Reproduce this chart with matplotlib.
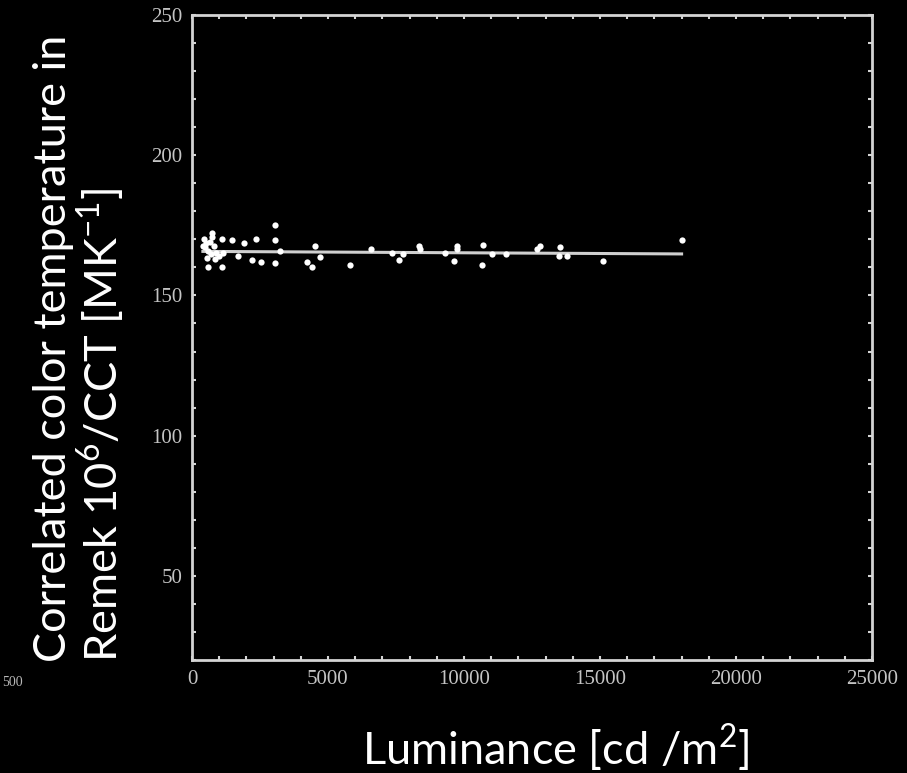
import matplotlib.pyplot as plt
from matplotlib import rc
from matplotlib.ticker import MultipleLocator

rc('mathtext', default='regular')

# data
lum = [450, 520, 480, 600, 700, 560, 800, 900, 1000, 1150, 850, 650, 400, 750,
       599, 724, 1092, 1092, 1482, 1702, 1923, 2195, 2353, 2537, 3051, 3051,
       3051, 3235, 4217, 4401, 4522, 4706, 5809, 6581, 7342, 7610, 7768, 8357,
       8382, 9301, 9643, 9732, 9732, 10651, 10710, 11018, 11544, 12673, 12794,
       13493, 13529, 13776, 15099, 18000]
remek = [170.3, 168.8, 167.2, 166.0, 164.6, 163.4, 167.6, 165.3, 164.0, 165.2,
         163.0, 169.2, 167.8, 171.0,
         160.3, 172.2, 170.2, 160.3, 169.8, 163.9, 168.6, 162.7, 170.2, 162.1,
         175.2, 169.9, 161.6, 166.0, 162.1, 160.3, 167.8, 163.6, 160.9, 166.4,
         165.1, 162.5, 164.6, 167.8, 166.6, 165.2, 162.2, 167.8, 166.4, 160.7,
         168.1, 164.6, 164.6, 166.6, 167.5, 164.2, 167.2, 164.0, 162.2, 169.9]

fit_x = [400, 18000]
fit_y = [165.7, 164.8]

xticks = [0, 5000, 10000, 15000, 20000, 25000]
yticks = [50, 100, 150, 200, 250]

fg = '#d4d4d4'
f = plt.figure(figsize=(9.07, 7.73), dpi=100, facecolor='black')
ax1 = f.add_axes([192/907, 1-660/773, 680/907, 645/773])
ax1.set_facecolor('black')

ax1.plot(fit_x, fit_y, color='#cfcfcf', linewidth=2.2)
ax1.plot(lum, remek, linestyle='none', marker='o', markersize=4.5,
         color='white', markeredgewidth=0)

ax1.set_xlim(0, 25000)
ax1.set_ylim(20, 250)
ax1.set_xticks(xticks)
ax1.set_yticks(yticks)
ax1.xaxis.set_minor_locator(MultipleLocator(1000))
ax1.yaxis.set_minor_locator(MultipleLocator(10))
ax1.tick_params(which='both', direction='in', top=True, right=True,
                length=3, width=1.5, color=fg, labelcolor='#c4c4c4', pad=7)
for lab in ax1.get_xticklabels() + ax1.get_yticklabels():
    lab.set_family('Liberation Serif')
    lab.set_fontsize(15)
for s in ax1.spines.values():
    s.set_color(fg)
    s.set_linewidth(2)

# labels
f.text(556/907, 1-748/773, 'Luminance [cd /m$^2$]', color='white',
       fontsize=32.5, family='Lato', ha='center', va='center')
f.text(80/907, 1-348/773,
       'Correlated color temperature in\nRemek 10$^6$/CCT [MK$^{-1}$]',
       color='white', fontsize=32.5, family='Lato', rotation=90,
       ha='center', va='center', ma='left', linespacing=1.05)

# small label left over from the neighbouring panel
f.text(2/907, 1-683/773, '500', color='#b8b8b8', fontsize=10,
       family='Liberation Serif', ha='left', va='center')

f.savefig('out.png', dpi=100, facecolor='black')
